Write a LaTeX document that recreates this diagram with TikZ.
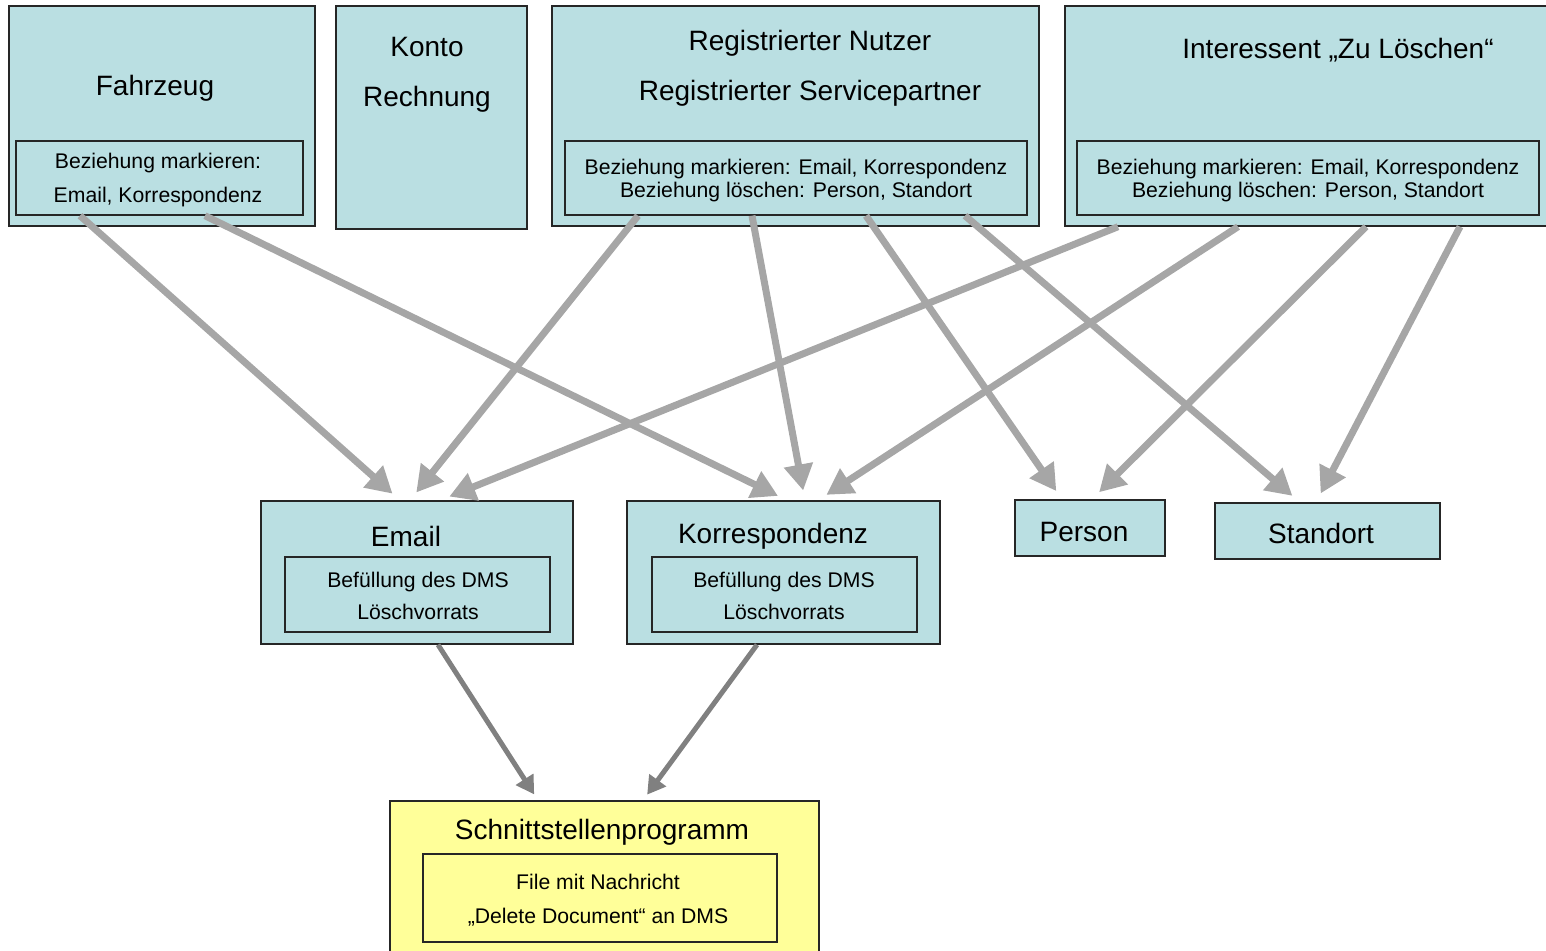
\documentclass[tikz,border=0pt]{standalone}
\usepackage{fontspec}
\setmainfont{Liberation Sans}
\usepackage{xcolor}
\usetikzlibrary{arrows.meta,positioning,calc}
\definecolor{boxcyan}{RGB}{186,223,226}
\definecolor{boxyellow}{RGB}{255,255,153}
\definecolor{arrlight}{RGB}{166,166,166}
\definecolor{arrdark}{RGB}{128,128,128}
\begin{document}
\begin{tikzpicture}[x = .5pt, y = -.5pt,
  box/.style = {draw = black!85, line width = .7pt, fill = boxcyan, inner sep = 0pt},
  ybox/.style = {box, fill = boxyellow},
  big/.style = {font = \fontsize{14}{25}\selectfont, align = center},
  small/.style = {font = \fontsize{10.6}{17}\selectfont, align = center},
  arr/.style = {draw = arrlight, line width = 3.5pt, shorten > = 5pt, -{Triangle[length = 13pt, width = 14pt]}},
  darr/.style = {draw = arrdark, line width = 2.5pt, shorten > = 3.5pt, -{Triangle[length = 9pt, width = 10pt]}}]
\useasboundingbox (0,0) rectangle (1546,950);
\node[box, minimum width = 153pt, minimum height = 110pt] (fz) at (162,116) {};
\node[box, minimum width = 143.5pt, minimum height = 37pt] (fzi) at (159.5,178) {};
\node[box, minimum width = 95.5pt, minimum height = 111.5pt] (konto) at (431.5,117.5) {};
\node[box, minimum width = 243.5pt, minimum height = 110pt] (reg) at (795.5,116) {};
\node[box, minimum width = 231pt, minimum height = 37pt] (regi) at (796,178) {};
\node[box, minimum width = 242.5pt, minimum height = 110pt] (int) at (1307.5,116) {};
\node[box, minimum width = 231pt, minimum height = 37pt] (inti) at (1308,178) {};
\node[box, minimum width = 156pt, minimum height = 71.5pt] (email) at (417,572.5) {};
\node[box, minimum width = 132.5pt, minimum height = 37.5pt] (emaili) at (417.5,594.5) {};
\node[box, minimum width = 156.5pt, minimum height = 71.5pt] (kor) at (783.5,572.5) {};
\node[box, minimum width = 132.5pt, minimum height = 37.5pt] (kori) at (784.5,594.5) {};
\node[box, minimum width = 75pt, minimum height = 28pt] (person) at (1090,528) {};
\node[box, minimum width = 112.5pt, minimum height = 28pt] (standort) at (1327.5,531) {};
\node[ybox, minimum width = 214.5pt, minimum height = 84.5pt] (sch) at (604.5,885.5) {};
\node[ybox, minimum width = 177pt, minimum height = 44pt] (schi) at (600,898) {};
\node[big] (fzt) at (155,88) {Fahrzeug};
\node[small] (fzit) at (158,180) {Beziehung markieren:\\Email, Korrespondenz};
\node[big] (kontot) at (427,75) {Konto\\Rechnung};
\node[big] (regt) at (810,68) {Registrierter Nutzer\\Registrierter Servicepartner};
\node[small, font = \fontsize{10.6}{11.5}\selectfont] (regit) at (796,181) {Beziehung markieren: Email, Korrespondenz\\Beziehung löschen: Person, Standort};
\node[big] (intt) at (1338,50) {Interessent „Zu Löschen“};
\node[small, font = \fontsize{10.6}{11.5}\selectfont] (intit) at (1308,181) {Beziehung markieren: Email, Korrespondenz\\Beziehung löschen: Person, Standort};
\node[big] (emailt) at (406,536) {Email};
\node[small, font = \fontsize{10.6}{16}\selectfont] (emailit) at (418,596) {Befüllung des DMS\\Löschvorrats};
\node[big] (kort) at (773,536) {Korrespondenz};
\node[small, font = \fontsize{10.6}{16}\selectfont] (korit) at (784,596) {Befüllung des DMS\\Löschvorrats};
\node[big] (persont) at (1084,532) {Person};
\node[big] (standortt) at (1321,533) {Standort};
\node[big] (scht) at (602,832) {Schnittstellenprogramm};
\node[small] (schit) at (598,900) {File mit Nachricht\\„Delete Document“ an DMS};
\draw[arr] ([xshift = -39.75pt]fzi.south) -- ([xshift = -8.5pt]email.north);
\draw[arr] ([xshift = 22.75pt]fzi.south) -- ([xshift = 1.75pt]kor.north);
\draw[arr] ([xshift = -79pt]regi.south) -- ([xshift = -3.5pt]email.north);
\draw[arr] ([xshift = -22pt]regi.south) -- ([xshift = 10.75pt]kor.north);
\draw[arr] ([xshift = 35pt]regi.south) -- ([xshift = -14pt]person.north);
\draw[arr] ([xshift = 84.5pt]regi.south) -- ([xshift = -13.75pt]standort.north);
\draw[arr] ([xshift = -94.75pt]int.south) -- ([xshift = 11.5pt]email.north);
\draw[arr] ([xshift = -34.75pt]int.south) -- ([xshift = 17.25pt]kor.north);
\draw[arr] ([xshift = 29.25pt]int.south) -- ([xshift = 1pt]person.north);
\draw[arr] ([xshift = 76.25pt]int.south) -- ([xshift = -5.75pt]standort.north);
\draw[darr] ([xshift = 10.5pt]email.south) -- ([xshift = -33.25pt]sch.north);
\draw[darr] ([xshift = -13.25pt]kor.south) -- ([xshift = 19.25pt]sch.north);
\end{tikzpicture}
\end{document}
